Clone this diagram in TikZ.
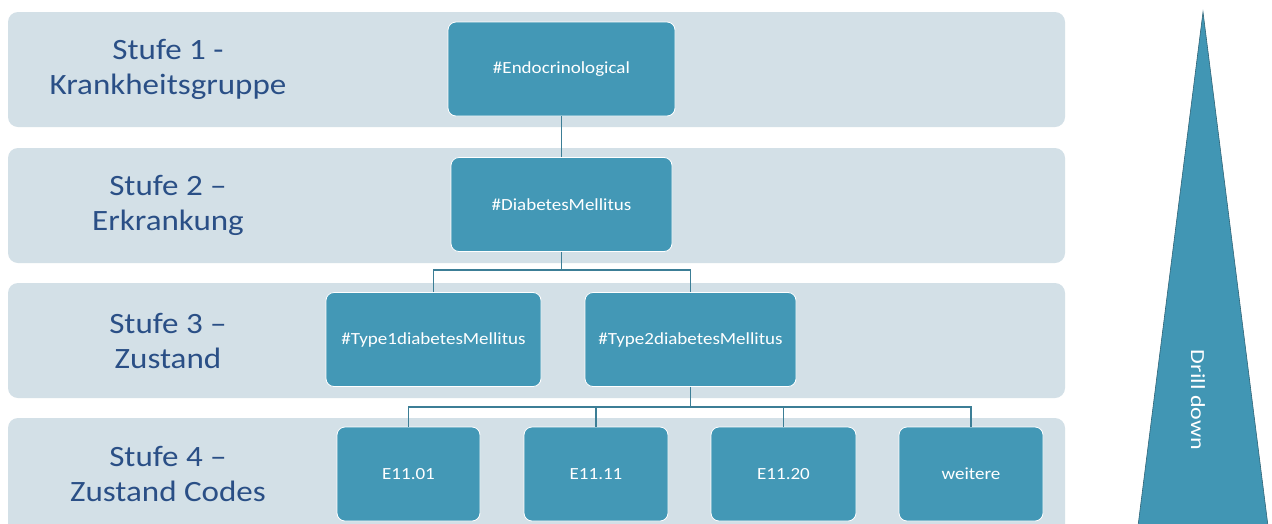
\documentclass[tikz,border=0pt]{standalone}
\usepackage{fontspec}
\setmainfont{Carlito}
\newfontfamily\widefont[FakeStretch=1.12]{Carlito}
\newfontfamily\drillfont[FakeStretch=1.2]{Carlito}
\usetikzlibrary{calc}
\definecolor{bandfill}{HTML}{D3E0E7}
\definecolor{boxfill}{HTML}{4398B6}
\definecolor{linkcol}{HTML}{3C7E96}
\definecolor{labelcol}{HTML}{2A4F86}
\definecolor{tricol}{HTML}{4196B4}
\tikzset{
  band/.style={fill=bandfill, draw=none, rounded corners=10pt},
  stage/.style={text=labelcol, align=center,
    font=\widefont\fontsize{29.5}{35}\selectfont},
  tag/.style={fill=boxfill, draw=white, line width=0.8pt, rounded corners=8pt,
    text=white, font=\widefont\fontsize{17}{20}\selectfont,
    minimum height=94pt, inner sep=2pt},
  link/.style={draw=linkcol, line width=1.4pt},
}
\begin{document}
\begin{tikzpicture}[x=1pt, y=-1pt]
\useasboundingbox (0,0) rectangle (1272,523);
\fill[white] (0,0) rectangle (1272,523);

% level bands
\path[band] (8,12) rectangle (1065,127);
\path[band] (8,148) rectangle (1065,263);
\path[band] (8,283) rectangle (1065,398);
\path[band] (8,418) rectangle (1065,540);

% level labels
\node[stage] (s1) at (168,69.5) {Stufe 1 -\\Krankheitsgruppe};
\node[stage] (s2) at (168,205.5) {Stufe 2 –\\Erkrankung};
\node[stage] (s3) at (168,340.5) {Stufe 3 –\\Zustand};
\node[stage] (s4) at (168,474) {Stufe 4 –\\Zustand Codes};

% hierarchy boxes
\node[tag, minimum width=227pt] (endo) at (561.5,69) {\#Endocrinological};
\node[tag, minimum width=221pt] (diab) at (561.5,204.5) {\#DiabetesMellitus};
\node[tag, minimum width=215pt] (t1) at (433.5,339.5) {\#Type1diabetesMellitus};
\node[tag, minimum width=211pt] (t2) at (690.5,339.5) {\#Type2diabetesMellitus};
\node[tag, minimum width=143pt] (c1) at (408.5,474) {E11.01};
\node[tag, minimum width=144pt] (c2) at (596,474) {E11.11};
\node[tag, minimum width=145pt] (c3) at (783.5,474) {E11.20};
\node[tag, minimum width=144pt] (c4) at (971,474) {weitere};

% connectors
\draw[link] (endo.south) -- (diab.north);
\coordinate (j1) at ($(diab.south)+(0,18)$);
\draw[link] (diab.south) -- (j1);
\draw[link] (j1) -| (t1.north);
\draw[link] (j1) -| (t2.north);
\coordinate (j2) at ($(t2.south)+(0,20)$);
\draw[link] (t2.south) -- (j2);
\draw[link] (j2) -| (c1.north);
\draw[link] (j2) -| (c2.north);
\draw[link] (j2) -| (c3.north);
\draw[link] (j2) -| (c4.north);

% drill-down wedge
\filldraw[fill=tricol, draw=linkcol!80!black, line width=0.6pt]
  (1203,12) -- (1268,526) -- (1138,526) -- cycle;
\node[text=white, rotate=-90, font=\drillfont\fontsize{20}{24}\selectfont]
  (drill) at (1198,400) {Drill down};
\end{tikzpicture}
\end{document}
